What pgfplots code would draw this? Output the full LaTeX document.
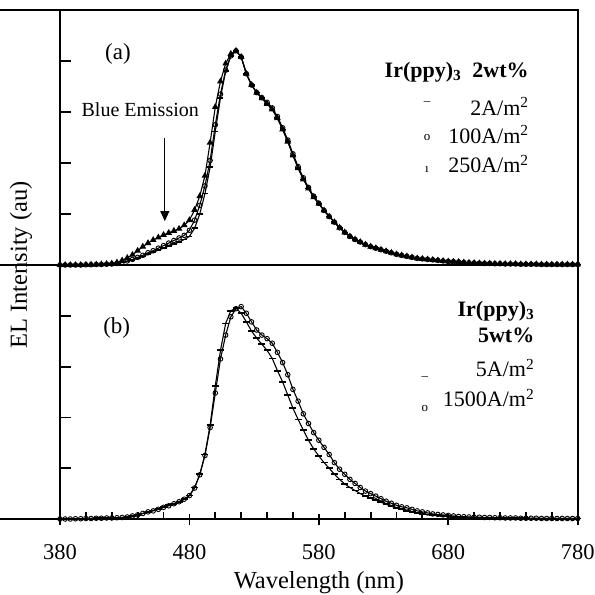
\documentclass[border=0pt]{standalone}
\usepackage{fontspec}
\setmainfont{Liberation Serif}
\usepackage{pgfplots}
\pgfplotsset{compat=1.18}
\usepackage{pgfplotstable}
\usetikzlibrary{arrows.meta}

% (a) Ir(ppy)3 2wt%: 2, 100, 250 A/m^2
\pgfplotstableread{
wl  a2    a100  a250
380 0     0     0
384 0     0     0
388 0     0     0
392 0     0     0
396 0     0     0
400 0.005 0.005 0.005
404 0.005 0.005 0.008
408 0.01  0.01  0.01
412 0.01  0.01  0.015
416 0.015 0.015 0.02
420 0.02  0.02  0.03
424 0.03  0.03  0.05
428 0.05  0.05  0.09
432 0.07  0.08  0.14
436 0.10  0.11  0.20
440 0.13  0.15  0.28
444 0.17  0.19  0.36
448 0.21  0.24  0.43
452 0.25  0.28  0.49
456 0.29  0.33  0.54
460 0.33  0.38  0.59
464 0.37  0.43  0.63
468 0.41  0.48  0.67
472 0.45  0.53  0.71
476 0.50  0.58  0.78
480 0.56  0.68  0.88
484 0.72  0.88  1.08
488 1.00  1.17  1.35
492 1.40  1.55  1.75
496 1.92  2.05  2.40
500 2.62  2.75  3.10
504 3.28  3.35  3.60
508 3.80  3.82  3.95
512 4.10  4.10  4.14
516 4.20  4.20  4.20
520 4.08  4.08  4.08
524 3.75  3.75  3.75
528 3.53  3.53  3.53
532 3.38  3.38  3.38
536 3.27  3.28  3.27
540 3.16  3.19  3.16
544 3.05  3.08  3.05
548 2.88  2.91  2.88
552 2.66  2.69  2.66
556 2.42  2.45  2.42
560 2.15  2.18  2.15
564 1.90  1.93  1.90
568 1.68  1.71  1.68
572 1.50  1.52  1.50
576 1.33  1.35  1.33
580 1.20  1.21  1.20
584 1.07  1.07  1.07
588 0.95  0.95  0.95
592 0.84  0.84  0.84
596 0.73  0.73  0.73
600 0.64  0.64  0.64
604 0.56  0.56  0.56
608 0.50  0.50  0.50
612 0.45  0.45  0.45
616 0.40  0.40  0.40
620 0.36  0.36  0.36
624 0.33  0.33  0.33
628 0.30  0.30  0.30
632 0.27  0.27  0.27
636 0.24  0.24  0.24
640 0.21  0.21  0.21
644 0.19  0.19  0.19
648 0.17  0.17  0.17
652 0.15  0.15  0.15
656 0.13  0.13  0.13
660 0.12  0.12  0.12
664 0.11  0.11  0.11
668 0.10  0.10  0.10
672 0.09  0.09  0.09
676 0.08  0.08  0.08
680 0.07  0.07  0.07
684 0.065 0.065 0.065
688 0.06  0.06  0.06
692 0.05  0.05  0.05
696 0.045 0.045 0.045
700 0.04  0.04  0.04
704 0.035 0.035 0.035
708 0.03  0.03  0.03
712 0.03  0.03  0.03
716 0.025 0.025 0.025
720 0.025 0.025 0.025
724 0.02  0.02  0.02
728 0.02  0.02  0.02
732 0.02  0.02  0.02
736 0.015 0.015 0.015
740 0.015 0.015 0.015
744 0.015 0.015 0.015
748 0.015 0.015 0.015
752 0.01  0.01  0.01
756 0.01  0.01  0.01
760 0.01  0.01  0.01
764 0.01  0.01  0.01
768 0.01  0.01  0.01
772 0.01  0.01  0.01
776 0.01  0.01  0.01
780 0.01  0.01  0.01
}\toptable

% (b) Ir(ppy)3 5wt%: 5, 1500 A/m^2
\pgfplotstableread{
wl  b5    b1500
380 0     0
384 0     0
388 0     0
392 0.005 0.005
396 0.005 0.005
400 0.01  0.01
404 0.01  0.01
408 0.015 0.015
412 0.015 0.015
416 0.02  0.02
420 0.02  0.02
424 0.025 0.025
428 0.03  0.03
432 0.04  0.04
436 0.06  0.06
440 0.08  0.08
444 0.11  0.11
448 0.14  0.14
452 0.17  0.16
456 0.20  0.19
460 0.23  0.23
464 0.27  0.26
468 0.30  0.30
472 0.34  0.34
476 0.39  0.39
480 0.46  0.46
484 0.62  0.61
488 0.88  0.87
492 1.27  1.25
496 1.85  1.80
500 2.62  2.48
504 3.32  3.15
508 3.85  3.62
512 4.10  3.98
516 4.15  4.14
520 4.05  4.18
524 3.88  4.05
528 3.70  3.88
532 3.56  3.72
536 3.44  3.62
540 3.32  3.55
544 3.16  3.46
548 2.92  3.28
552 2.70  3.08
556 2.44  2.84
560 2.18  2.55
564 1.96  2.32
568 1.75  2.07
572 1.55  1.88
576 1.38  1.70
580 1.24  1.55
584 1.11  1.41
588 1.00  1.27
592 0.88  1.11
596 0.78  0.98
600 0.69  0.88
604 0.62  0.78
608 0.56  0.70
612 0.50  0.62
616 0.45  0.55
620 0.41  0.50
624 0.37  0.45
628 0.33  0.40
632 0.29  0.35
636 0.25  0.31
640 0.22  0.27
644 0.19  0.24
648 0.16  0.22
652 0.14  0.19
656 0.12  0.16
660 0.10  0.14
664 0.09  0.12
668 0.08  0.10
672 0.07  0.09
676 0.06  0.08
680 0.05  0.07
684 0.045 0.06
688 0.04  0.05
692 0.035 0.045
696 0.03  0.04
700 0.03  0.035
704 0.025 0.035
708 0.025 0.03
712 0.02  0.03
716 0.02  0.025
720 0.02  0.025
724 0.015 0.02
728 0.015 0.02
732 0.015 0.02
736 0.015 0.015
740 0.015 0.015
744 0.01  0.015
748 0.01  0.015
752 0.01  0.01
756 0.01  0.01
760 0.01  0.01
764 0.01  0.01
768 0.01  0.01
772 0.01  0.01
776 0.01  0.01
780 0.01  0.01
}\bottable

\begin{document}
\begin{tikzpicture}
\useasboundingbox (0,0) rectangle (595pt,595pt);
\pgfplotsset{
  panel/.style={
    scale only axis, width=517.7pt,
    xmin=380, xmax=780, ymin=0, ymax=5,
    axis line style={line width=1.9pt},
    ytick={1,2,3,4}, yticklabels={}, ytick pos=left,
    tick align=inside, major tick length=11pt, minor tick length=7pt,
    tick style={black, line width=1.8pt},
    clip=false,
    /pgf/number format/assume math mode=true,
  },
  curve/.style={black, line width=1.1pt},
}
% top panel
\begin{axis}[panel, at={(60pt,330pt)}, anchor=south west, height=255pt, xtick=\empty]
\addplot[curve, mark=triangle*, mark size=2.8pt] table[x=wl, y=a250]{\toptable};
\addplot[curve, mark=-, mark size=3pt, mark options={line width=1.6pt}] table[x=wl, y=a2]{\toptable};
\addplot[curve, mark=o, mark size=2.3pt, mark options={fill=white, line width=0.9pt}] table[x=wl, y=a100]{\toptable};
\draw[line width=1.9pt] (rel axis cs:0,0) -- ++(-8pt,0);
\draw[line width=1.9pt] (rel axis cs:0,1) -- ++(-8pt,0);
\node[font=\fontsize{23}{27}\selectfont] at (rel axis cs:0.112,0.827) {(a)};
\node[font=\fontsize{20}{24}\selectfont] at (rel axis cs:0.155,0.608) {Blue Emission};
\draw[line width=0.9pt, -{Triangle[length=10pt,width=9pt]}] (axis cs:461,2.49) -- (axis cs:461,0.86);
\node[anchor=base east, font=\fontsize{22}{26}\selectfont] at (rel axis cs:0.912,0.737) {\textbf{Ir(ppy)\textsubscript{3}\ \ 2wt\%}};
\node[anchor=base east, font=\fontsize{22}{26}\selectfont] at (rel axis cs:0.912,0.588) {2A/m\textsuperscript{2}};
\node[anchor=base east, font=\fontsize{22}{26}\selectfont] at (rel axis cs:0.912,0.478) {100A/m\textsuperscript{2}};
\node[anchor=base east, font=\fontsize{22}{26}\selectfont] at (rel axis cs:0.912,0.361) {250A/m\textsuperscript{2}};
\node[font=\fontsize{13}{15}\selectfont] at (rel axis cs:0.709,0.64) {\_};
\node[font=\fontsize{13}{15}\selectfont] at (rel axis cs:0.709,0.50) {o};
\node[font=\fontsize{13}{15}\selectfont] at (rel axis cs:0.709,0.375) {\i};
\end{axis}
% bottom panel
\begin{axis}[panel, at={(60pt,76pt)}, anchor=south west, height=254pt,
  xtick={380,480,580,680,780}, minor x tick num=4, xtick pos=bottom,
  major x tick style={yshift=-6pt},
  xticklabel style={font=\fontsize{22.5}{26}\selectfont, anchor=base, yshift=-40pt},
  xlabel={Wavelength (nm)},
  xlabel style={at={(axis description cs:0.5,-0.272)}, anchor=base, font=\fontsize{24.5}{28}\selectfont},
  ylabel={EL Intensity (au)},
  ylabel style={at={(axis description cs:-0.0753,1.0)}, anchor=center, font=\fontsize{24.5}{28}\selectfont},
]
\addplot[curve, mark=-, mark size=3.5pt, mark options={line width=1.7pt}] table[x=wl, y=b5]{\bottable};
\addplot[curve, mark=o, mark size=2.3pt, mark options={fill=white, line width=0.9pt}] table[x=wl, y=b1500]{\bottable};
\draw[line width=1.9pt] (rel axis cs:0,0) -- ++(-8pt,0);
\node[font=\fontsize{23}{27}\selectfont] at (rel axis cs:0.1095,0.752) {(b)};
\node[anchor=base east, font=\fontsize{22}{26}\selectfont] at (rel axis cs:0.923,0.796) {\textbf{Ir(ppy)\textsubscript{3}}};
\node[anchor=base east, font=\fontsize{22}{26}\selectfont] at (rel axis cs:0.923,0.694) {\textbf{5wt\%}};
\node[anchor=base east, font=\fontsize{22}{26}\selectfont] at (rel axis cs:0.923,0.560) {5A/m\textsuperscript{2}};
\node[anchor=base east, font=\fontsize{22}{26}\selectfont] at (rel axis cs:0.923,0.442) {1500A/m\textsuperscript{2}};
\node[font=\fontsize{13}{15}\selectfont] at (rel axis cs:0.705,0.56) {\_};
\node[font=\fontsize{13}{15}\selectfont] at (rel axis cs:0.705,0.435) {o};
\end{axis}
\end{tikzpicture}
\end{document}
